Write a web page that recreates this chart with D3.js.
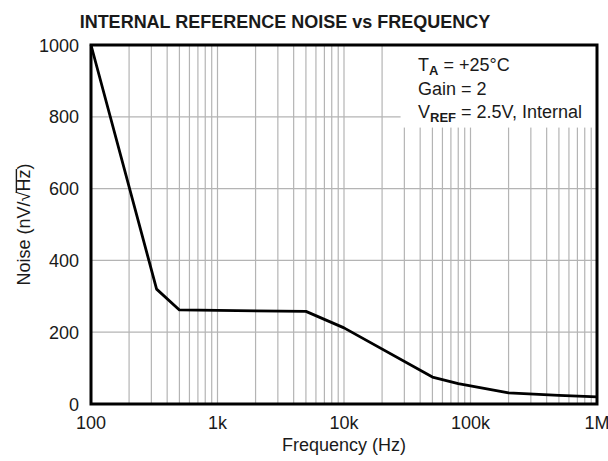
<!DOCTYPE html>
<html>
<head>
<meta charset="utf-8">
<script src="https://cdn.jsdelivr.net/npm/d3@7"></script>
<style>
  html, body { margin: 0; padding: 0; background: #fff; }
  svg { display: block; font-family: "Liberation Sans", Arial, Helvetica, sans-serif; }
</style>
</head>
<body>
<svg id="chart" width="608" height="461"></svg>
<script>
// Noise curve: frequency (Hz) and noise density (nV/√Hz)
const frequency = [100, 330, 500, 5000, 10000, 50000, 80000, 200000, 500000, 1000000];
const noise     = [1000, 320, 262, 258, 212, 75, 57, 31, 24, 20];

// Axis ticks
const xTickValues = [100, 1000, 10000, 100000, 1000000];
const xTickLabels = ["100", "1k", "10k", "100k", "1M"];
const yTickValues = [0, 200, 400, 600, 800, 1000];

// Conditions listed in the annotation box
const noteLines = [
  { main: "T", sub: "A", rest: " = +25°C" },
  { main: "Gain = 2", sub: null, rest: "" },
  { main: "V", sub: "REF", rest: " = 2.5V, Internal" }
];

const width = 608, height = 461;
const margin = { top: 45, right: 11, bottom: 57, left: 91 };
const innerW = width - margin.left - margin.right;
const innerH = height - margin.top - margin.bottom;

const svg = d3.select("#chart");
const g = svg.append("g").attr("transform", `translate(${margin.left},${margin.top})`);

const x = d3.scaleLog().domain([100, 1000000]).range([0, innerW]);
const y = d3.scaleLinear().domain([0, 1000]).range([innerH, 0]);

// Minor/major log grid (2..9 in each decade plus decade lines)
const vGrid = [];
for (let dec = 100; dec < 1000000; dec *= 10) {
  for (let m = 1; m <= 9; m++) {
    const v = dec * m;
    if (v > 100) vGrid.push(v);
  }
}
const gridColor = "#b4b4b4";
g.append("g").selectAll("line.v").data(vGrid).join("line")
  .attr("x1", d => x(d)).attr("x2", d => x(d))
  .attr("y1", 0).attr("y2", innerH)
  .attr("stroke", gridColor).attr("stroke-width", 1.2);

g.append("g").selectAll("line.h").data(yTickValues.filter(v => v > 0 && v < 1000)).join("line")
  .attr("x1", 0).attr("x2", innerW)
  .attr("y1", d => y(d)).attr("y2", d => y(d))
  .attr("stroke", gridColor).attr("stroke-width", 1.2);

// Blank panel behind the annotation text
g.append("rect")
  .attr("x", x(28000)).attr("y", 0)
  .attr("width", innerW - x(28000)).attr("height", y(770))
  .attr("fill", "#fff");

// Noise curve
const line = d3.line()
  .x((d, i) => x(frequency[i]))
  .y((d, i) => y(noise[i]));
g.append("path")
  .datum(noise)
  .attr("d", line)
  .attr("fill", "none")
  .attr("stroke", "#000")
  .attr("stroke-width", 2.8)
  .attr("stroke-linejoin", "round");

// Plot frame
g.append("rect")
  .attr("x", 0).attr("y", 0)
  .attr("width", innerW).attr("height", innerH)
  .attr("fill", "none").attr("stroke", "#000").attr("stroke-width", 3);

// X tick labels
g.append("g").selectAll("text").data(xTickValues).join("text")
  .attr("x", d => x(d))
  .attr("y", innerH + 25)
  .attr("text-anchor", "middle")
  .attr("font-size", 18)
  .attr("fill", "#1a1a1a")
  .text((d, i) => xTickLabels[i]);

// Y tick labels
g.append("g").selectAll("text").data(yTickValues).join("text")
  .attr("x", -12)
  .attr("y", d => y(d) + 6.5)
  .attr("text-anchor", "end")
  .attr("font-size", 18)
  .attr("fill", "#1a1a1a")
  .text(d => d);

// Axis titles
svg.append("text")
  .attr("x", margin.left + innerW / 2)
  .attr("y", 451)
  .attr("text-anchor", "middle")
  .attr("font-size", 18)
  .attr("fill", "#1a1a1a")
  .text("Frequency (Hz)");

const yTitle = svg.append("text")
  .attr("transform", `translate(30,${margin.top + innerH / 2}) rotate(-90)`)
  .attr("text-anchor", "middle")
  .attr("font-size", 18)
  .attr("fill", "#1a1a1a");
yTitle.append("tspan").text("Noise (nV/√");
yTitle.append("tspan").attr("id", "hz").text("Hz");
yTitle.append("tspan").text(")");

// Radical bar over "Hz"
const hzBox = document.getElementById("hz").getBBox();
const hzStart = document.getElementById("hz").getStartPositionOfChar(0);
const hzEnd = document.getElementById("hz").getEndPositionOfChar(1);
svg.append("line")
  .attr("transform", `translate(30,${margin.top + innerH / 2}) rotate(-90)`)
  .attr("x1", hzStart.x - 1).attr("x2", hzEnd.x + 0.5)
  .attr("y1", -13.6).attr("y2", -13.6)
  .attr("stroke", "#1a1a1a").attr("stroke-width", 1.4);

// Chart title
svg.append("text")
  .attr("x", 285)
  .attr("y", 28)
  .attr("text-anchor", "middle")
  .attr("font-size", 18)
  .attr("font-weight", "bold")
  .attr("fill", "#1a1a1a")
  .text("INTERNAL REFERENCE NOISE vs FREQUENCY");

// Annotation text
const note = svg.append("g").attr("font-size", 18).attr("fill", "#1a1a1a");
noteLines.forEach((ln, i) => {
  const t = note.append("text")
    .attr("x", 418)
    .attr("y", 71 + i * 23.7);
  t.append("tspan").text(ln.main);
  if (ln.sub) {
    t.append("tspan")
      .attr("dy", 4)
      .attr("font-size", 13)
      .attr("font-weight", "bold")
      .text(ln.sub);
    t.append("tspan").attr("dy", -4).text(ln.rest);
  }
});
</script>
</body>
</html>
